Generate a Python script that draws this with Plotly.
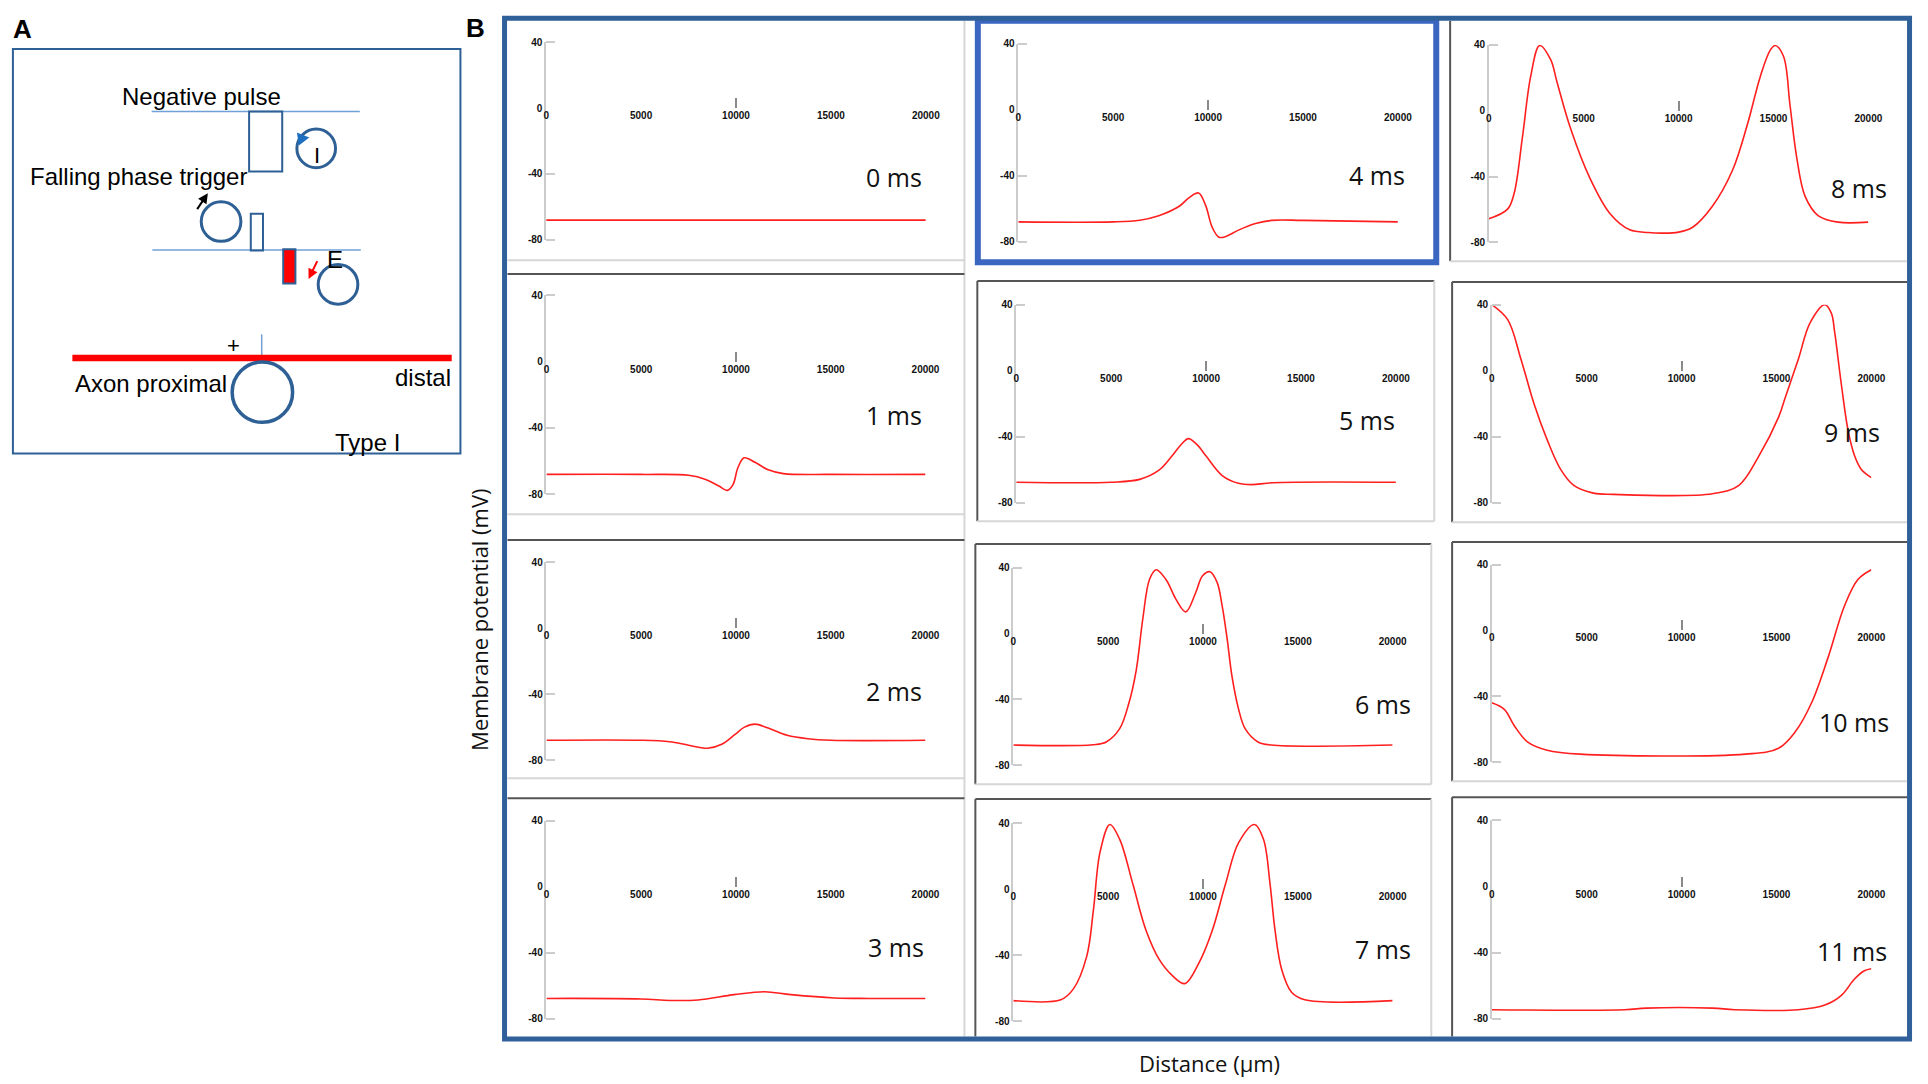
import plotly.graph_objects as go

W, H = 1928, 1084

# membrane potential (mV) along the axon (um), one profile per time step
t0_x = [0, 5000, 10000, 15000, 20000]
t0_v = [-68, -68, -68, -68, -68]

t1_x = [0, 5000, 7500, 8400, 9100, 9550, 9850, 10100, 10430, 11000, 11700, 12500, 15000, 20000]
t1_v = [-68, -68, -68.5, -71, -75, -77.6, -74, -64, -58, -60.7, -65.2, -67.5, -68, -68]

t2_x = [0, 5000, 6500, 7500, 8500, 9250, 9950, 10450, 11000, 11700, 12700, 13800, 15000, 20000]
t2_v = [-68, -68, -68.9, -71, -72.8, -70.4, -64.4, -60, -58.2, -60.6, -65, -67.1, -68, -68]

t3_x = [0, 5000, 6500, 8000, 9900, 11500, 12900, 15200, 17000, 20000]
t3_v = [-67.7, -68, -68.9, -68.6, -65.4, -63.6, -65.4, -67.4, -67.7, -67.7]

t4_x = [0, 5000, 6400, 7400, 8500, 9000, 9500, 9870, 10220, 10570, 10900, 11600, 12500, 13350, 15000, 20000]
t4_v = [-68, -68, -67, -64.3, -58.4, -53.3, -50.5, -58, -71.4, -77.3, -77, -73, -69, -67.1, -67.1, -68]

t5_x = [0, 5000, 6500, 7500, 8200, 8700, 9070, 9500, 10000, 10850, 11700, 12400, 13500, 20000]
t5_v = [-67.5, -67.5, -65.8, -60.4, -51.7, -44.5, -41.1, -44.5, -51.7, -63.5, -68.2, -69, -67.8, -67.5]

t6_x = [0, 4200, 4900, 5600, 6100, 6480, 6830, 7180, 7530, 8050, 8570, 9090, 9620, 9970,
        10370, 10750, 11010, 11270, 11530, 11880, 12230, 12900, 13600, 20000]
t6_v = [-67.7, -67.5, -65.8, -57.9, -42, -22.3, 9.2, 32.9, 38.8, 32.9, 21, 13.2, 25, 35,
        37.6, 31, 17, -2.7, -26, -46, -57.9, -65.8, -67.7, -67.7]

t7_x = [0, 2500, 3170, 3870, 4220, 4570, 5090, 5610, 6310, 7000, 7700, 8400, 9040, 9790,
        10490, 11180, 11880, 12720, 13190, 13540, 13800, 14150, 14670, 15370, 20000]
t7_v = [-67.5, -67, -60.4, -40.7, -13, 22.3, 39.2, 30.2, 2.8, -25, -42.7, -52.5, -57.2, -44.6,
        -25, 2.8, 28.2, 39.2, 30.2, 2.8, -25, -48.6, -62.4, -67, -67.5]

t8_x = [0, 990, 1340, 1770, 2210, 2680, 3260, 3600, 4300, 5340, 6390, 7430, 8400, 9170, 10000,
        10740, 11790, 12840, 13620, 14310, 14830, 15090, 15530, 15870, 16220, 16660, 17350, 18400, 20000]
t8_v = [-65.7, -59.8, -50, -16.4, 21, 39.6, 31, 17.1, -10.5, -41.3, -62.6, -72.4, -74, -74.4, -73.8,
        -70.8, -57.9, -36.2, -8.6, 21, 36.8, 39.6, 32.9, 3.3, -28.2, -51.9, -63.7, -67.7, -67.7]

t9_x = [0, 840, 1530, 2230, 2920, 3620, 4320, 5360, 6410, 11630, 13020, 14070, 15110, 15460,
        16160, 16770, 17550, 17890, 18070, 18420, 18770, 19100, 19460, 20000]
t9_v = [40, 30.9, 7.3, -20.2, -41.9, -59.6, -69.4, -74.1, -74.9, -74.5, -69.4, -51.7, -28.1, -16.3,
        7.3, 29, 40, 34.9, 23, -8.5, -36, -51, -59.6, -64.7]

t10_x = [0, 660, 1180, 1880, 2920, 4660, 13370, 15110, 15980, 16850, 17720, 18590, 19290, 20000]
t10_v = [-44, -48, -57.8, -67.7, -72.8, -75.2, -75.2, -71.6, -61.8, -44, -16.4, 15.1, 30.9, 36.8]

t11_x = [0, 7000, 8150, 11630, 12800, 16150, 17550, 18420, 19110, 19630, 20000]
t11_v = [-74.6, -74.6, -73.6, -73.6, -74.6, -74.6, -71.8, -65.9, -56, -51, -49.8]

labels = ["0 ms", "1 ms", "2 ms", "3 ms", "4 ms", "5 ms", "6 ms", "7 ms", "8 ms", "9 ms", "10 ms", "11 ms"]
profiles = [(t0_x, t0_v), (t1_x, t1_v), (t2_x, t2_v), (t3_x, t3_v), (t4_x, t4_v), (t5_x, t5_v),
            (t6_x, t6_v), (t7_x, t7_v), (t8_x, t8_v), (t9_x, t9_v), (t10_x, t10_v), (t11_x, t11_v)]
x_ticks = [0, 5000, 10000, 15000, 20000]
x_tick_text = ["0", "5000", "10000", "15000", "20000"]
y_ticks = [40, 0, -40, -80]
y_tick_text = ["40", "0", "-40", "-80"]

# pixel placement of each small panel: x of 0, x of 20000, y of 40, y of -80, label centre
boxes = [
    (548, 931, 36.5, 236.5, 899, 173),
    (548.3, 930.7, 292.4, 493.8, 899, 414),
    (548.3, 930.7, 562.5, 762.5, 899, 693),
    (548.3, 930.7, 823.7, 1024.1, 901, 952),
    (1024.3, 1407.3, 38, 238.3, 1386, 171),
    (1022.3, 1405.3, 302, 502.4, 1376, 419),
    (1019.3, 1402, 568.1, 767.8, 1392, 706),
    (1019.3, 1402, 826.3, 1026.6, 1392, 954),
    (1499, 1882, 39.3, 239, 1873, 184),
    (1502, 1885, 302, 502.4, 1865, 431),
    (1502, 1885, 564.8, 764.5, 1867, 724),
    (1502, 1885, 823.6, 1024, 1865, 956),
]


def fx(p):
    return p / W


def fy(p):
    return 1 - p / H


fig = go.Figure()
tick_font = dict(family="Liberation Sans", size=10, color="#111111", weight="bold")
layout = {}
annotations = []
shapes = []


def note(text, x, y, size, family="Liberation Sans", **kw):
    annotations.append(dict(text=text, x=fx(x), y=fy(y), xref="paper", yref="paper", showarrow=False,
                            xanchor="center", yanchor="middle",
                            font=dict(family=family, size=size, color=kw.pop("color", "#000000"),
                                      weight=kw.pop("weight", "normal")), **kw))


for i, ((xs, vs), (x0, x1, y40, y80, lx, ly), lab) in enumerate(zip(profiles, boxes, labels)):
    n = "" if i == 0 else str(i + 1)
    fig.add_trace(go.Scatter(x=xs, y=vs, mode="lines", xaxis="x" + n, yaxis="y" + n,
                             line=dict(color="#ff1f1f", width=1.6, shape="spline", smoothing=1),
                             showlegend=False, hoverinfo="skip"))
    zero_px = y40 + (40 / 120) * (y80 - y40)
    layout["xaxis" + n] = dict(domain=[fx(x0), fx(x1)], range=[0, 20000], anchor="free", position=fy(zero_px),
                               showgrid=False, zeroline=False, showline=False, ticks="",
                               tickvals=x_ticks, ticktext=x_tick_text, tickfont=tick_font,
                               minor=dict(tickvals=[10000], ticks="inside", ticklen=10, tickwidth=1.5,
                                          tickcolor="#8a8a8a", showgrid=False))
    layout["yaxis" + n] = dict(domain=[fy(y80), fy(y40)], range=[-80, 40], anchor="x" + n,
                               showgrid=False, zeroline=False, showline=True, linecolor="#cccccc",
                               linewidth=1.5, ticks="", tickvals=y_ticks, ticktext=y_tick_text,
                               tickfont=tick_font,
                               minor=dict(tickvals=[40, -40, -80], ticks="inside", ticklen=9,
                                          tickwidth=1.5, tickcolor="#cccccc", showgrid=False))
    note(lab, lx, ly, 25, family="Open Sans", color="#111111")


def hline(y, xa, xb, color, w=2):
    shapes.append(dict(type="line", xref="paper", yref="paper", x0=fx(xa), x1=fx(xb), y0=fy(y), y1=fy(y),
                       line=dict(color=color, width=w)))


def vline(x, ya, yb, color, w=2):
    shapes.append(dict(type="line", xref="paper", yref="paper", x0=fx(x), x1=fx(x), y0=fy(ya), y1=fy(yb),
                       line=dict(color=color, width=w)))


def rect(xa, xb, ya, yb, color, w=2, fill="rgba(0,0,0,0)"):
    shapes.append(dict(type="rect", xref="paper", yref="paper", x0=fx(xa), x1=fx(xb), y0=fy(yb), y1=fy(ya),
                       line=dict(color=color, width=w), fillcolor=fill))


def circle(cx, cy, r, color="#2e6096", w=3):
    shapes.append(dict(type="circle", xref="paper", yref="paper", x0=fx(cx - r), x1=fx(cx + r),
                       y0=fy(cy + r), y1=fy(cy - r), line=dict(color=color, width=w)))


dark, light = "#555555", "#d6d6d6"
# column 1 frames
vline(970, 15, 1042, light)
for y in (257, 514, 781):
    hline(y, 509, 970, light)
for y in (271, 540, 801):
    hline(y, 509, 970, dark)
# column 2 frames
for top, bot, left, right in ((278, 521, 983, 1444), (544, 787, 981, 1441), (802, 1042, 981, 1441)):
    hline(top, left, right, dark)
    vline(left, top, bot, dark)
    vline(right, top, bot, light)
    if bot < 1000:
        hline(bot, left, right, light)
# column 3 frames
vline(1460, 15, 258, dark)
hline(258, 1460, 1921, light)
for top, bot in ((279, 522), (542, 784), (800, 1042)):
    hline(top, 1462, 1921, dark)
    vline(1462, top, bot, dark)
    if bot < 1000:
        hline(bot, 1462, 1921, light)
# highlighted 4 ms panel and outer frame of B
rect(983.5, 1446, 15, 259, "#3a66c2", 6)
rect(506, 1923.5, 12.5, 1044.5, "#30609a", 5)

# panel A schematic
rect(10, 461.5, 43.5, 452.5, "#2e6096", 2)
hline(106.7, 150, 360, "#6fa0d8", 1.5)
hline(246.7, 150.7, 361, "#6fa0d8", 1.5)
rect(248.3, 281.7, 106.7, 167.3, "#2e6096", 2)
rect(250, 262.3, 210, 247.3, "#2e6096", 2)
rect(282.7, 295, 246, 280.7, "#2e6096", 2, "#ff0000")
circle(316, 144, 19.5)
circle(220, 218, 20)
circle(338, 281.5, 20)
vline(261, 332, 356, "#6fa0d8", 1.5)
hline(356, 70, 452.7, "#ff0000", 6.5)
circle(261.7, 390.5, 30.5, w=3.5)
shapes.append(dict(type="path", xref="paper", yref="paper", fillcolor="#1f6fc0", line=dict(width=0),
                   path="M %f %f L %f %f L %f %f Z" % (fx(296.5), fy(128), fx(309), fy(133), fx(298.5), fy(141))))

texts_a = [
    ("Negative pulse", 200.5, 92, 24),
    ("Falling phase trigger", 136.7, 172.5, 24),
    ("I", 316.7, 151, 22),
    ("E", 335, 256, 24),
    ("+", 232.3, 343, 22),
    ("Axon proximal", 149, 382, 24),
    ("distal", 424, 376, 24),
    ("Type I", 367.5, 441, 24),
]
for t, x, y, s in texts_a:
    note(t, x, y, s)

annotations.append(dict(text="", x=fx(206.7), y=fy(189.3), xref="paper", yref="paper", ax=-11.7, ay=17.4,
                        showarrow=True, arrowhead=2, arrowsize=1, arrowwidth=2, arrowcolor="#000000"))
annotations.append(dict(text="", x=fx(308.3), y=fy(276), xref="paper", yref="paper", ax=9.4, ay=-19.3,
                        showarrow=True, arrowhead=2, arrowsize=1, arrowwidth=2, arrowcolor="#ff0000"))

note("A", 19.5, 23, 26, weight="bold")
note("B", 477, 22, 26, weight="bold")
note("Membrane potential (mV)", 480, 621, 22, family="Open Sans", color="#111111", textangle=-90)
note("Distance (µm)", 1217, 1069, 22, family="Open Sans", color="#111111")

# size follows the browser window, so paper coordinates map onto the page
fig.update_layout(autosize=True, margin=dict(l=0, r=0, t=0, b=0), paper_bgcolor="white",
                  plot_bgcolor="white", annotations=annotations, shapes=shapes, **layout)

pin = ("document.documentElement.style.overflow='hidden';document.body.style.margin='0';"
       "document.body.style.overflow='hidden';var d=document.getElementById('{plot_id}');"
       "d.style.position='fixed';d.style.left='0px';d.style.top='0px';")
fig.write_html("out.html", config={"displayModeBar": False, "responsive": True}, post_script=pin,
               default_width="100vw", default_height="100vh")
